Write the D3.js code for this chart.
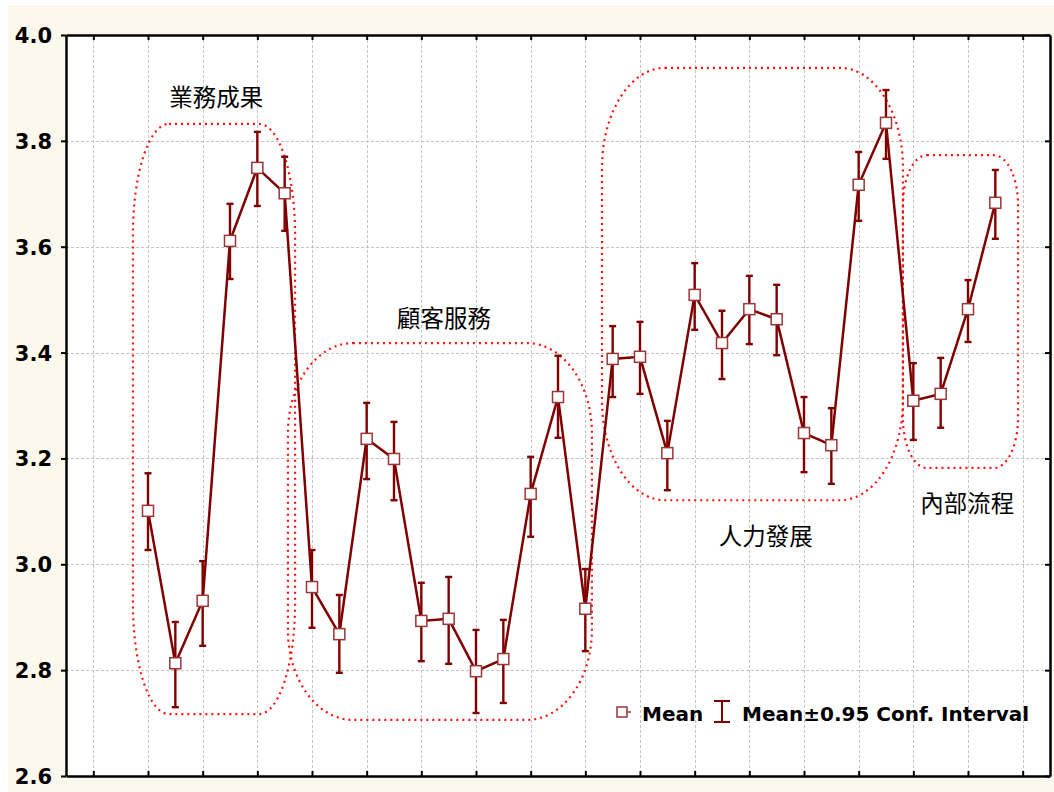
<!DOCTYPE html>
<html>
<head>
<meta charset="utf-8">
<script src="https://cdn.jsdelivr.net/npm/d3@7"></script>
<style>
  html, body { margin: 0; padding: 0; background: #fff; }
  svg { display: block; }
  .tick-label { font-family: "DejaVu Sans", Verdana, sans-serif; font-weight: bold; font-size: 21px; fill: #000; }
  .legend-text { font-family: "DejaVu Sans", Verdana, sans-serif; font-weight: bold; font-size: 20px; fill: #000; }
  .group-label { font-family: "Noto Sans CJK TC", "Noto Sans CJK SC", sans-serif; font-size: 23.5px; fill: #000; }
</style>
</head>
<body>
<div id="chart"></div>
<script>
// ============================================
// DATA
// ============================================

// mean per item (32 items, in order along the x axis)
const means = [
  3.101, 2.813, 2.931, 3.611, 3.749, 3.701,
  2.957, 2.868, 3.237, 3.199, 2.893, 2.897, 2.798, 2.821, 3.133, 3.316, 2.916,
  3.388, 3.392, 3.210, 3.509, 3.418, 3.482, 3.463, 3.248, 3.225, 3.717, 3.834,
  3.309, 3.322, 3.482, 3.683
];
const ciLow = [
  3.027, 2.730, 2.846, 3.539, 3.677, 3.630,
  2.880, 2.795, 3.161, 3.121, 2.817, 2.812, 2.719, 2.738, 3.052, 3.239, 2.836,
  3.316, 3.322, 3.140, 3.443, 3.350, 3.416, 3.395, 3.174, 3.152, 3.649, 3.766,
  3.235, 3.258, 3.420, 3.615
];
const ciHigh = [
  3.172, 2.891, 3.006, 3.681, 3.817, 3.770,
  3.027, 2.942, 3.305, 3.269, 2.965, 2.976, 2.876, 2.895, 3.203, 3.394, 2.991,
  3.450, 3.458, 3.271, 3.569, 3.479, 3.545, 3.528, 3.316, 3.295, 3.779, 3.896,
  3.380, 3.390, 3.537, 3.745
];

// groups of items (annotated with dotted outlines)
const groupNames = ["業務成果", "顧客服務", "人力發展", "內部流程"];
// outline extents in data units: [x from, x to, y low, y high]
const groupBoxes = [
  [-0.55, 5.38, 2.717, 3.832],
  [5.12, 16.24, 2.706, 3.418],
  [16.61, 27.62, 3.121, 3.938],
  [27.62, 31.83, 3.182, 3.773]
];
// label anchor in data units: [x, y]
const groupLabelPos = [
  [2.5, 3.866],
  [10.83, 3.448],
  [22.6, 3.036],
  [29.97, 3.098]
];

const yTicks = [2.6, 2.8, 3.0, 3.2, 3.4, 3.6, 3.8, 4.0];
const xTicks = d3.range(-2, 33, 2);

const legendLabels = ["Mean", "Mean±0.95 Conf. Interval"];

// ============================================
// DIMENSIONS & SCALES
// ============================================

const W = 1054, H = 792;
const plot = { left: 66, right: 1050, top: 35, bottom: 776 };

const x = d3.scaleLinear().domain([-3, 33]).range([plot.left, plot.right]);
const y = d3.scaleLinear().domain([2.6, 4.0]).range([plot.bottom, plot.top]);

const lineColor = "#800000";
const markerStroke = "#9c3535";

// ============================================
// SVG SETUP
// ============================================

const svg = d3.select("#chart").append("svg")
  .attr("width", W)
  .attr("height", H);

// cream background
svg.append("rect")
  .attr("x", 8).attr("y", 5)
  .attr("width", W - 8).attr("height", H - 5)
  .attr("fill", "#fdf8ec");

svg.append("rect")
  .attr("x", plot.left).attr("y", plot.top)
  .attr("width", plot.right - plot.left)
  .attr("height", plot.bottom - plot.top)
  .attr("fill", "#fff");

// grid
const grid = svg.append("g").attr("stroke", "#c4c4c4").attr("stroke-width", 1)
  .attr("stroke-dasharray", "3,2");
grid.selectAll(".vg").data(xTicks).join("line")
  .attr("x1", d => Math.round(x(d)) + 0.5).attr("x2", d => Math.round(x(d)) + 0.5)
  .attr("y1", plot.top).attr("y2", plot.bottom);
grid.selectAll(".hg").data(yTicks.slice(1, -1)).join("line")
  .attr("y1", d => Math.round(y(d)) + 0.5).attr("y2", d => Math.round(y(d)) + 0.5)
  .attr("x1", plot.left).attr("x2", plot.right);

// axes
const bottomAxis = d3.axisBottom(x).tickValues(xTicks).tickSizeInner(-5).tickSizeOuter(0).tickFormat("");
const topAxis = d3.axisTop(x).tickValues(xTicks).tickSizeInner(-5).tickSizeOuter(0).tickFormat("");
const leftAxis = d3.axisLeft(y).tickValues(yTicks).tickSizeInner(5).tickSizeOuter(0)
  .tickPadding(9).tickFormat(d3.format(".1f"));
const rightAxis = d3.axisRight(y).tickValues(yTicks).tickSizeInner(-5).tickSizeOuter(0).tickFormat("");

function styleAxis(g) {
  g.select(".domain").attr("stroke", "#000").attr("stroke-width", 2.5);
  g.selectAll(".tick line").attr("stroke", "#000").attr("stroke-width", 2);
}

svg.append("g").attr("transform", `translate(0,${plot.bottom})`).call(bottomAxis).call(styleAxis);
svg.append("g").attr("transform", `translate(0,${plot.top})`).call(topAxis).call(styleAxis);
svg.append("g").attr("transform", `translate(${plot.right},0)`).call(rightAxis).call(styleAxis);
const yAxisG = svg.append("g").attr("transform", `translate(${plot.left},0)`).call(leftAxis).call(styleAxis);
yAxisG.selectAll(".tick text")
  .attr("class", "tick-label")
  .attr("font-family", null).attr("font-size", null)
  .attr("dy", "0.36em");

// ============================================
// GROUP OUTLINES & LABELS
// ============================================

const cornerR = [[36, 110], [65, 90], [63, 100], [24, 50]];

svg.append("g").selectAll("rect").data(groupBoxes).join("rect")
  .attr("x", d => x(d[0]))
  .attr("y", d => y(d[3]))
  .attr("width", d => x(d[1]) - x(d[0]))
  .attr("height", d => y(d[2]) - y(d[3]))
  .attr("rx", (d, i) => cornerR[i][0])
  .attr("ry", (d, i) => cornerR[i][1])
  .attr("fill", "none")
  .attr("stroke", "#ff1010")
  .attr("stroke-width", 2.2)
  .attr("stroke-dasharray", "2,4");

svg.append("g").selectAll("text").data(groupNames).join("text")
  .attr("class", "group-label")
  .attr("x", (d, i) => x(groupLabelPos[i][0]))
  .attr("y", (d, i) => y(groupLabelPos[i][1]))
  .attr("text-anchor", "middle")
  .text(d => d);

// ============================================
// ERROR BARS, LINE, MARKERS
// ============================================

const idx = d3.range(means.length);
const cap = 3.5;

const eb = svg.append("g").attr("stroke", lineColor).attr("stroke-width", 2.4);
eb.selectAll(".v").data(idx).join("line")
  .attr("x1", i => x(i)).attr("x2", i => x(i))
  .attr("y1", i => y(ciLow[i])).attr("y2", i => y(ciHigh[i]));
eb.selectAll(".t").data(idx).join("line")
  .attr("x1", i => x(i) - cap).attr("x2", i => x(i) + cap)
  .attr("y1", i => y(ciHigh[i])).attr("y2", i => y(ciHigh[i]));
eb.selectAll(".b").data(idx).join("line")
  .attr("x1", i => x(i) - cap).attr("x2", i => x(i) + cap)
  .attr("y1", i => y(ciLow[i])).attr("y2", i => y(ciLow[i]));

svg.append("path")
  .datum(idx)
  .attr("fill", "none")
  .attr("stroke", lineColor)
  .attr("stroke-width", 2.5)
  .attr("d", d3.line().x(i => x(i)).y(i => y(means[i])));

const ms = 11;
svg.append("g").selectAll("rect").data(idx).join("rect")
  .attr("x", i => x(i) - ms / 2)
  .attr("y", i => y(means[i]) - ms / 2)
  .attr("width", ms).attr("height", ms)
  .attr("fill", "#fff")
  .attr("stroke", markerStroke)
  .attr("stroke-width", 1.5);

// ============================================
// LEGEND
// ============================================

const lg = svg.append("g").attr("transform", "translate(622,712)");
lg.append("line").attr("x1", 0).attr("x2", 9).attr("y1", 0).attr("y2", 0)
  .attr("stroke", markerStroke).attr("stroke-width", 1.5);
lg.append("rect").attr("x", -5).attr("y", -5).attr("width", 10).attr("height", 10)
  .attr("fill", "#fff").attr("stroke", markerStroke).attr("stroke-width", 1.5);
lg.append("text").attr("class", "legend-text").attr("x", 20).attr("y", 9).text(legendLabels[0]);

const lgE = lg.append("g").attr("transform", "translate(100,0)").attr("stroke", lineColor).attr("stroke-width", 2);
lgE.append("line").attr("x1", 0).attr("x2", 0).attr("y1", -11).attr("y2", 10);
lgE.append("line").attr("x1", -8).attr("x2", 8).attr("y1", -11).attr("y2", -11);
lgE.append("line").attr("x1", -8).attr("x2", 8).attr("y1", 10).attr("y2", 10);
lg.append("text").attr("class", "legend-text").attr("x", 120).attr("y", 9).text(legendLabels[1]);
</script>
</body>
</html>
